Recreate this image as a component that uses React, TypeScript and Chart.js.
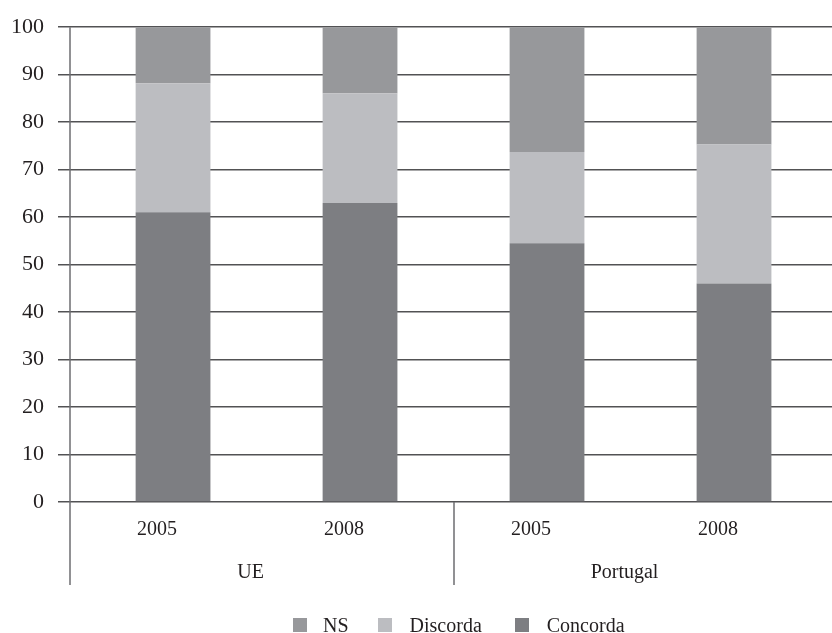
import React, { useEffect, useRef } from 'react';
import { Chart, registerables } from 'chart.js';

Chart.register(...registerables);

const years = ['2005', '2008', '2005', '2008'];
const groups = ['UE', 'Portugal'];
const groupSpans = [[0, 1], [2, 3]];
const concorda = [61, 63, 54.5, 46];
const discorda = [27.2, 23.1, 19.2, 29.3];
const ns = [11.8, 13.9, 26.3, 24.7];
const seriesNames = ['NS', 'Discorda', 'Concorda'];
const seriesColors = ['#97989b', '#bcbdc1', '#7d7e82'];

const FONT = "'Liberation Serif', 'DejaVu Serif', serif";
const TEXT = '#231f20';

const decor = {
  id: 'decor',
  afterDraw(chart: any) {
    const { ctx, chartArea } = chart;
    const x = chart.scales.x;
    const lowest = chartArea.bottom + 83;
    ctx.save();
    ctx.strokeStyle = '#6d6e71';
    ctx.lineWidth = 1.5;
    ctx.beginPath();
    const lx = Math.round(chartArea.left);
    ctx.moveTo(lx, chartArea.top);
    ctx.lineTo(lx, lowest);
    const sx = Math.round(x.getPixelForValue(1.5));
    ctx.moveTo(sx, chartArea.bottom);
    ctx.lineTo(sx, lowest);
    ctx.stroke();
    ctx.fillStyle = TEXT;
    ctx.font = `20px ${FONT}`;
    ctx.textAlign = 'center';
    ctx.textBaseline = 'middle';
    groups.forEach((g, i) => {
      const [a, b] = groupSpans[i];
      ctx.fillText(g, x.getPixelForValue((a + b) / 2) - 16, chartArea.bottom + 71);
    });
    ctx.restore();
  },
};

export default function App() {
  const ref = useRef<HTMLCanvasElement>(null);
  useEffect(() => {
    if (!ref.current) return;
    const mk = (vals: number[]) => vals.map((v, i) => ({ x: i, y: v }));
    const chart = new Chart(ref.current, {
      type: 'bar',
      data: {
        datasets: [
          { label: seriesNames[2], data: mk(concorda), backgroundColor: seriesColors[2] },
          { label: seriesNames[1], data: mk(discorda), backgroundColor: seriesColors[1] },
          { label: seriesNames[0], data: mk(ns), backgroundColor: seriesColors[0] },
        ] as any,
      },
      options: {
        animation: false,
        responsive: false,
        maintainAspectRatio: false,
        layout: { padding: { top: 22, right: 0, left: 0, bottom: 0 } },
        datasets: { bar: { barPercentage: 0.4, categoryPercentage: 1 } } as any,
        plugins: { legend: { display: false }, tooltip: { enabled: false } },
        scales: {
          x: {
            type: 'linear',
            min: -0.551,
            max: 3.524,
            offset: false,
            stacked: true,
            grid: { display: false, offset: false },
            border: { display: false },
            afterBuildTicks: (s: any) => {
              s.ticks = years.map((_, i) => ({ value: i }));
            },
            afterFit: (s: any) => {
              s.height = 131;
            },
            ticks: {
              autoSkip: false,
              maxRotation: 0,
              padding: 8,
              labelOffset: -16,
              color: TEXT,
              font: { family: FONT, size: 20 },
              callback: (_v: any, i: number) => years[i],
            },
          } as any,
          y: {
            min: 0,
            max: 100,
            stacked: true,
            border: { display: false },
            grid: { color: '#525254', lineWidth: 1.5, tickLength: 12, drawTicks: true },
            afterFit: (s: any) => {
              s.width = 70;
            },
            ticks: {
              stepSize: 10,
              padding: 14,
              color: TEXT,
              font: { family: FONT, size: 22 },
            },
          },
        },
      },
      plugins: [decor],
    });
    return () => chart.destroy();
  }, []);

  const legendOrder = [0, 1, 2];
  return (
    <div style={{ position: 'fixed', left: 0, top: 0, width: 832, height: 633, overflow: 'hidden', background: '#fff' }}>
      <canvas ref={ref} width={832} height={633} style={{ display: 'block' }} />
      <div
        style={{
          position: 'absolute',
          left: 293,
          top: 615,
          height: 20,
          display: 'flex',
          alignItems: 'center',
          fontFamily: FONT,
          fontSize: 20,
          color: TEXT,
          whiteSpace: 'nowrap',
        }}
      >
        {legendOrder.map((i) => (
          <div key={i} style={{ display: 'flex', alignItems: 'center', marginRight: i === 0 ? 29 : 33 }}>
            <span style={{ width: 14, height: 14, background: seriesColors[i], marginRight: i === 0 ? 16 : 18, display: 'inline-block' }} />
            <span>{seriesNames[i]}</span>
          </div>
        ))}
      </div>
    </div>
  );
}
